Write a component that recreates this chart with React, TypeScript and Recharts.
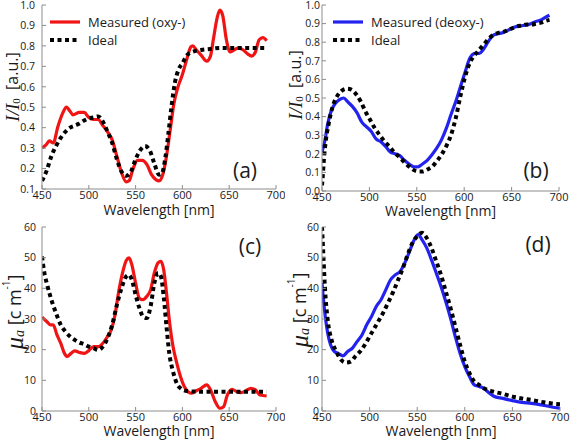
import React from 'react';
import { LineChart, Line, XAxis, YAxis } from 'recharts';

// ---------- shared ----------
const wavelengthTicks = [450, 500, 550, 600, 650, 700];
const intensityTicksA = [0.1, 0.2, 0.3, 0.4, 0.5, 0.6, 0.7, 0.8, 0.9, 1.0];
const intensityTicksB = [0, 0.1, 0.2, 0.3, 0.4, 0.5, 0.6, 0.7, 0.8, 0.9, 1.0];
const absorptionTicks = [0, 10, 20, 30, 40, 50, 60];

// ---------- panel (a) ----------
const aMeasX = [450, 455, 458, 462, 467, 472, 476, 480, 483, 490, 495, 500, 505, 510, 515, 520, 525, 530, 535, 540, 543, 547, 552, 557, 562, 567, 572, 575, 579, 583, 587, 591, 595, 600, 605, 609, 611, 615, 620, 626, 630, 633, 637, 640, 643, 647, 651, 655, 660, 665, 670, 674, 678, 682, 686, 690];
const aMeasY = [0.30, 0.32, 0.335, 0.325, 0.406, 0.47, 0.50, 0.48, 0.463, 0.475, 0.475, 0.45, 0.44, 0.44, 0.41, 0.38, 0.34, 0.26, 0.18, 0.135, 0.14, 0.195, 0.24, 0.24, 0.22, 0.17, 0.145, 0.14, 0.17, 0.26, 0.39, 0.52, 0.595, 0.66, 0.74, 0.795, 0.80, 0.78, 0.755, 0.725, 0.75, 0.83, 0.935, 0.975, 0.95, 0.83, 0.77, 0.78, 0.79, 0.78, 0.76, 0.75, 0.77, 0.83, 0.84, 0.825];
const aIdealX = [450, 455, 460, 465, 470, 475, 480, 485, 490, 495, 500, 505, 510, 515, 520, 525, 530, 535, 540, 545, 550, 555, 560, 565, 570, 575, 578, 582, 585, 588, 592, 596, 600, 605, 610, 620, 630, 640, 650, 660, 670, 690];
const aIdealY = [0.14, 0.19, 0.26, 0.31, 0.35, 0.38, 0.40, 0.41, 0.42, 0.435, 0.445, 0.45, 0.455, 0.43, 0.38, 0.325, 0.245, 0.185, 0.165, 0.185, 0.245, 0.29, 0.31, 0.29, 0.225, 0.17, 0.175, 0.26, 0.37, 0.49, 0.62, 0.685, 0.715, 0.755, 0.77, 0.78, 0.785, 0.79, 0.79, 0.79, 0.79, 0.79];

// ---------- panel (b) ----------
const bMeasX = [450, 453, 456, 460, 464, 468, 473, 477, 482, 487, 492, 497, 502, 507, 512, 517, 522, 527, 532, 537, 542, 547, 551, 556, 561, 566, 571, 576, 581, 586, 591, 596, 601, 606, 609, 612, 616, 620, 625, 630, 635, 640, 645, 650, 656, 662, 668, 675, 681, 686, 690];
const bMeasY = [0.21, 0.27, 0.36, 0.435, 0.47, 0.49, 0.50, 0.48, 0.455, 0.42, 0.37, 0.345, 0.32, 0.28, 0.265, 0.24, 0.21, 0.20, 0.19, 0.165, 0.145, 0.13, 0.13, 0.145, 0.165, 0.195, 0.23, 0.275, 0.335, 0.41, 0.48, 0.56, 0.64, 0.715, 0.735, 0.74, 0.74, 0.76, 0.80, 0.835, 0.845, 0.85, 0.86, 0.875, 0.885, 0.89, 0.895, 0.91, 0.92, 0.935, 0.945];
const bIdealX = [450, 451, 452, 454, 457, 461, 466, 471, 476, 481, 486, 491, 496, 501, 506, 511, 516, 521, 526, 531, 536, 541, 546, 551, 556, 561, 566, 571, 576, 581, 586, 591, 596, 601, 606, 611, 616, 621, 626, 631, 636, 641, 646, 651, 656, 661, 666, 671, 676, 681, 686, 690];
const bIdealY = [0.03, 0.095, 0.17, 0.27, 0.36, 0.45, 0.51, 0.54, 0.55, 0.545, 0.52, 0.48, 0.425, 0.38, 0.335, 0.30, 0.265, 0.24, 0.21, 0.185, 0.16, 0.135, 0.115, 0.105, 0.105, 0.115, 0.13, 0.16, 0.195, 0.24, 0.30, 0.39, 0.51, 0.615, 0.69, 0.73, 0.76, 0.79, 0.82, 0.84, 0.85, 0.855, 0.865, 0.875, 0.885, 0.89, 0.895, 0.895, 0.90, 0.905, 0.915, 0.92];

// ---------- panel (c) ----------
const cMeasX = [450, 455, 459, 462, 466, 470, 474, 477, 481, 485, 490, 495, 500, 505, 510, 515, 520, 524, 528, 532, 536, 540, 543, 546, 550, 554, 558, 562, 566, 570, 574, 577, 580, 583, 586, 590, 594, 598, 602, 606, 610, 615, 620, 626, 630, 635, 640, 644, 648, 653, 658, 663, 668, 673, 678, 683, 690];
const cMeasY = [30.6, 29.2, 28.1, 28.1, 24.8, 22.1, 18.8, 17.8, 18.8, 19.6, 19.1, 18.8, 19.7, 21.0, 21.0, 22.1, 24.3, 26.5, 31.4, 39.0, 45.0, 49.1, 49.9, 47.7, 41.7, 36.8, 36.3, 37.4, 39.5, 45.0, 48.3, 48.8, 46.1, 38.5, 29.7, 21.0, 15.6, 11.2, 8.0, 6.3, 5.8, 6.6, 7.4, 8.5, 6.9, 3.1, 0.9, 1.4, 5.2, 7.1, 6.3, 6.0, 6.6, 7.4, 6.9, 5.2, 4.9];
const cIdealX = [450, 452, 456, 460, 465, 470, 475, 480, 485, 490, 495, 500, 505, 510, 515, 520, 525, 530, 535, 540, 543, 546, 550, 554, 558, 562, 566, 570, 574, 577, 580, 583, 586, 590, 594, 598, 605, 620, 650, 690];
const cIdealY = [50.4, 46.0, 40.6, 36.3, 31.9, 28.1, 25.9, 24.3, 23.2, 22.3, 21.8, 21.0, 20.5, 19.9, 21.0, 23.7, 28.1, 34.6, 40.1, 43.9, 44.4, 42.8, 37.9, 33.6, 30.8, 30.3, 34.1, 41.7, 45.0, 43.9, 37.4, 27.6, 18.8, 12.9, 9.0, 7.4, 6.5, 6.3, 6.3, 6.3];

// ---------- panel (d) ----------
const dMeasX = [450, 453, 456, 459, 463, 467, 472, 477, 482, 487, 492, 497, 502, 507, 512, 517, 522, 527, 532, 537, 542, 547, 551, 555, 560, 565, 570, 575, 580, 585, 590, 595, 600, 605, 610, 615, 620, 625, 630, 640, 650, 660, 670, 680, 690, 700];
const dMeasY = [41.7, 31.9, 25.4, 21.6, 19.4, 18.8, 18.0, 19.4, 20.5, 22.7, 24.8, 28.1, 30.8, 34.1, 36.3, 39.5, 42.8, 44.4, 45.5, 48.3, 52.1, 55.9, 57.5, 55.9, 53.2, 49.3, 45.0, 40.6, 35.7, 30.3, 24.3, 18.8, 14.5, 11.2, 8.5, 8.0, 7.4, 6.0, 4.9, 4.1, 3.4, 2.8, 2.5, 2.0, 1.4, 0.9];
const dIdealX = [450, 451, 453, 456, 460, 465, 470, 475, 480, 485, 490, 495, 500, 505, 510, 515, 520, 525, 530, 535, 540, 545, 550, 555, 560, 565, 570, 575, 580, 585, 590, 595, 600, 605, 610, 615, 620, 630, 640, 650, 660, 670, 680, 690, 700];
const dIdealY = [60, 53.7, 40.6, 29.7, 23.2, 19.4, 16.7, 15.8, 16.1, 17.8, 19.4, 21.6, 24.3, 27.0, 29.7, 32.5, 35.7, 39.0, 42.8, 46.6, 51.0, 54.8, 57.0, 58.1, 56.4, 53.2, 48.8, 44.4, 39.0, 33.6, 27.6, 21.6, 16.1, 12.3, 9.6, 8.5, 7.4, 6.3, 5.6, 4.7, 4.1, 3.6, 3.0, 2.5, 2.2];

const legendOxy = ['Measured (oxy-)', 'Ideal'];
const legendDeoxy = ['Measured (deoxy-)', 'Ideal'];

const zip = (xs: number[], ys: number[]) => xs.map((x, i) => ({ x, y: ys[i] }));

const SANS = '"Open Sans", "DejaVu Sans", sans-serif';
const SERIF = '"Liberation Serif", "DejaVu Serif", serif';
const FRAME = '#8c8c8c';
const TEXT = '#1a1a1a';
const RED = '#f01414';
const BLUE = '#2323f0';

type PanelProps = {
  left: number; top: number; width: number; height: number;
  margin: { top: number; right: number };
  yAxisWidth: number; xAxisHeight: number; yTickMargin: number; xLabelOffset: number;
  yDomain: [number, number]; yTicks: number[]; yFmt: (v: number) => string;
  meas: { x: number; y: number }[]; ideal: { x: number; y: number }[];
  color: string;
  ylabelKind: 'I' | 'mu';
  ylabelX: number; ylabelY: number;
  tag: string; tagX: number; tagY: number;
  legend?: string[];
  legendLeft?: number;
};

const IntensityLabel = ({ cx, cy }: { cx: number; cy: number }) => (
  <text
    x={cx}
    y={cy}
    transform={`rotate(-90 ${cx} ${cy})`}
    textAnchor="middle"
    dominantBaseline="central"
    fill={TEXT}
  >
    <tspan fontFamily={SERIF} fontStyle="italic" fontSize={19}>I/I</tspan>
    <tspan fontFamily={SERIF} fontSize={11} dy={4}>0</tspan>
    <tspan fontFamily={SANS} fontSize={16} dy={-4}>{'\u00a0 [a.u.]'}</tspan>
  </text>
);

const AbsorptionLabel = ({ cx, cy }: { cx: number; cy: number }) => (
  <text
    x={cx}
    y={cy}
    transform={`rotate(-90 ${cx} ${cy})`}
    textAnchor="middle"
    dominantBaseline="central"
    fill={TEXT}
  >
    <tspan fontFamily={SERIF} fontStyle="italic" fontSize={25}>{'\u03bc'}</tspan>
    <tspan fontFamily={SERIF} fontStyle="italic" fontSize={14} dy={5}>a</tspan>
    <tspan fontFamily={SANS} fontSize={18} dy={-5}>{'\u00a0[c m'}</tspan>
    <tspan fontFamily={SANS} fontSize={10} dy={-8}>-1</tspan>
    <tspan fontFamily={SANS} fontSize={18} dy={8}>]</tspan>
  </text>
);

const LegendBox = ({ items, color }: { items: string[]; color: string }) => (
  <div style={{ fontFamily: SANS, fontSize: 13, color: TEXT, lineHeight: '18px' }}>
    {items.map((t, i) => (
      <div key={t} style={{ display: 'flex', alignItems: 'center', height: 18 }}>
        <svg width={40} height={18} style={{ display: 'block' }}>
          {i === 0 ? (
            <line x1={2} x2={32} y1={9} y2={9} stroke={color} strokeWidth={3.2} />
          ) : (
            <line x1={2} x2={32} y1={9} y2={9} stroke="#000" strokeWidth={4} strokeDasharray="4 3.5" />
          )}
        </svg>
        <span>{t}</span>
      </div>
    ))}
  </div>
);

const Panel = (p: PanelProps) => {
  return (
    <div style={{ position: 'absolute', left: p.left, top: p.top, width: p.width, height: p.height }}>
      <LineChart
        width={p.width}
        height={p.height}
        margin={{ top: p.margin.top, right: p.margin.right, bottom: 0, left: 0 }}
        style={{ overflow: 'visible' }}
      >
        <XAxis
          xAxisId={0}
          type="number"
          dataKey="x"
          domain={[450, 700]}
          ticks={wavelengthTicks}
          allowDataOverflow
          height={p.xAxisHeight}
          tickSize={-4}
          tickMargin={6}
          axisLine={{ stroke: FRAME }}
          tickLine={{ stroke: FRAME }}
          tick={{ fill: TEXT, fontSize: 11, fontFamily: SANS }}
          interval={0}
          label={(lp: any) => {
            const vb = lp.viewBox;
            return (
              <text
                x={vb.x + vb.width / 2}
                y={vb.y + p.xLabelOffset}
                textAnchor="middle"
                fontFamily={SANS}
                fontSize={14}
                fill={TEXT}
              >
                Wavelength [nm]
              </text>
            );
          }}
        />
        <XAxis
          xAxisId="top"
          orientation="top"
          type="number"
          dataKey="x"
          domain={[450, 700]}
          ticks={wavelengthTicks}
          allowDataOverflow
          mirror
          height={0}
          tickSize={4}
          tick={false}
          axisLine={{ stroke: FRAME }}
          tickLine={{ stroke: FRAME }}
          interval={0}
        />
        <YAxis
          yAxisId={0}
          type="number"
          domain={p.yDomain}
          ticks={p.yTicks}
          allowDataOverflow
          width={p.yAxisWidth}
          tickSize={-4}
          tickMargin={p.yTickMargin}
          tickFormatter={p.yFmt}
          axisLine={{ stroke: FRAME }}
          tickLine={{ stroke: FRAME }}
          tick={{ fill: TEXT, fontSize: 10.5, fontFamily: SANS }}
          interval={0}
          label={() =>
            p.ylabelKind === 'I' ? (
              <IntensityLabel cx={p.ylabelX} cy={p.ylabelY} />
            ) : (
              <AbsorptionLabel cx={p.ylabelX} cy={p.ylabelY} />
            )
          }
        />
        <YAxis
          yAxisId="right"
          orientation="right"
          type="number"
          domain={p.yDomain}
          ticks={p.yTicks}
          allowDataOverflow
          mirror
          width={0}
          tickSize={4}
          tick={false}
          axisLine={{ stroke: FRAME }}
          tickLine={{ stroke: FRAME }}
          interval={0}
        />
        <Line
          xAxisId={0}
          yAxisId={0}
          data={p.meas}
          dataKey="y"
          type="monotone"
          stroke={p.color}
          strokeWidth={3.2}
          dot={false}
          activeDot={false}
          isAnimationActive={false}
        />
        <Line
          xAxisId={0}
          yAxisId={0}
          data={p.ideal}
          dataKey="y"
          type="monotone"
          stroke="#000"
          strokeWidth={4}
          strokeDasharray="4 3.5"
          dot={false}
          activeDot={false}
          isAnimationActive={false}
        />
      </LineChart>
      {p.legend ? (
        <div style={{ position: 'absolute', top: 13, left: p.legendLeft }}>
          <LegendBox items={p.legend} color={p.color} />
        </div>
      ) : null}
      <div
        style={{
          position: 'absolute',
          left: p.tagX,
          top: p.tagY,
          fontFamily: SANS,
          fontSize: 21,
          color: TEXT,
          lineHeight: 1,
          transform: 'translate(-50%, -50%)',
          pointerEvents: 'none',
        }}
      >
        {p.tag}
      </div>
    </div>
  );
};

const fmt1 = (v: number) => v.toFixed(1);
const fmt0 = (v: number) => String(v);

export default function App() {
  return (
    <div style={{ position: 'absolute', left: 0, top: 0, width: 570, height: 441, background: '#fff', overflow: 'hidden' }}>
      <Panel
        left={0} top={0} width={285} height={220}
        margin={{ top: 5, right: 9 }} yAxisWidth={42} xAxisHeight={31} yTickMargin={11} xLabelOffset={26}
        yDomain={[0.1, 1.0]} yTicks={intensityTicksA} yFmt={fmt1}
        meas={zip(aMeasX, aMeasY)} ideal={zip(aIdealX, aIdealY)} color={RED}
        ylabelKind="I" ylabelX={12} ylabelY={87}
        tag="(a)" tagX={245} tagY={170}
        legend={legendOxy} legendLeft={48}
      />
      <Panel
        left={285} top={0} width={285} height={220}
        margin={{ top: 5, right: 11 }} yAxisWidth={37} xAxisHeight={29} yTickMargin={6} xLabelOffset={25}
        yDomain={[0, 1.0]} yTicks={intensityTicksB} yFmt={fmt1}
        meas={zip(bMeasX, bMeasY)} ideal={zip(bIdealX, bIdealY)} color={BLUE}
        ylabelKind="I" ylabelX={10} ylabelY={85}
        tag="(b)" tagX={251} tagY={170}
        legend={legendDeoxy} legendLeft={46}
      />
      <Panel
        left={0} top={220} width={285} height={221}
        margin={{ top: 7, right: 9 }} yAxisWidth={42} xAxisHeight={30} yTickMargin={10} xLabelOffset={25}
        yDomain={[0, 60]} yTicks={absorptionTicks} yFmt={fmt0}
        meas={zip(cMeasX, cMeasY)} ideal={zip(cIdealX, cIdealY)} color={RED}
        ylabelKind="mu" ylabelX={14} ylabelY={92}
        tag="(c)" tagX={250} tagY={26}
      />
      <Panel
        left={285} top={220} width={285} height={221}
        margin={{ top: 7, right: 10 }} yAxisWidth={37} xAxisHeight={30} yTickMargin={7} xLabelOffset={25}
        yDomain={[0, 60]} yTicks={absorptionTicks} yFmt={fmt0}
        meas={zip(dMeasX, dMeasY)} ideal={zip(dIdealX, dIdealY)} color={BLUE}
        ylabelKind="mu" ylabelX={14} ylabelY={90}
        tag="(d)" tagX={253} tagY={24}
      />
    </div>
  );
}
